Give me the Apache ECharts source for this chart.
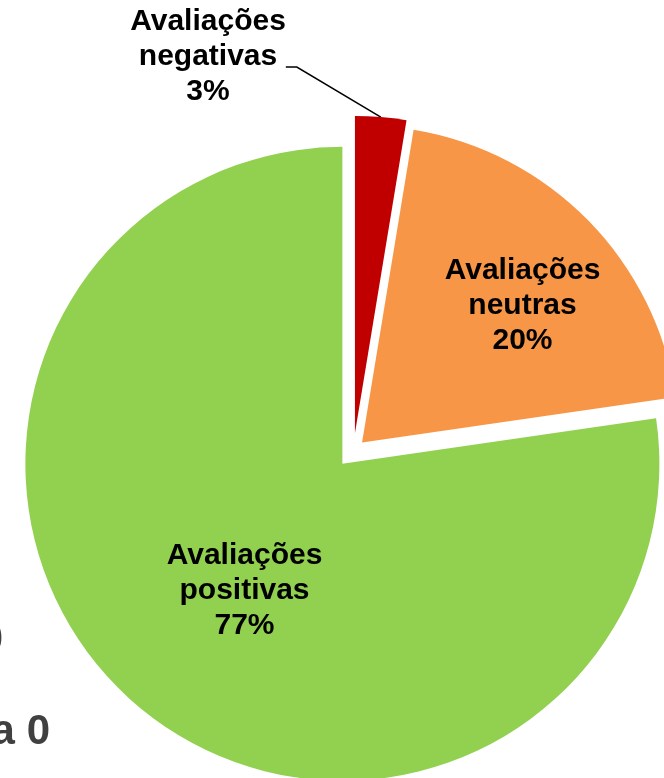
<!DOCTYPE html>
<html>
<head>
<meta charset="utf-8">
<script src="https://cdn.jsdelivr.net/npm/echarts@6/dist/echarts.min.js"></script>
<style>
html,body{margin:0;padding:0;background:#fff;}
#chart{width:664px;height:778px;}
</style>
</head>
<body>
<div id="chart"></div>
<script>
// ---- data ----
const categories = ['Avaliações negativas', 'Avaliações neutras', 'Avaliações positivas'];
const values = [2.6, 20.1, 77.3];

// ---- styles / layout ----
const colors = ['#C00000', '#F79646', '#92D050'];
const explode = [18, 12, 17];
const pieCenter = [353.5, 451];
const pieRadius = 317;
const labelPos = [[208, 57], [522.5, 306], [244.5, 591]];
const labelFont = {
  fontFamily: 'Liberation Sans, Arial, sans-serif',
  fontWeight: 'bold',
  fontSize: 30,
  lineHeight: 35,
  color: '#000'
};

const total = values.reduce((a, b) => a + b, 0);
let cum = 0;
const mids = values.map(v => { const m = (cum + v / 2) / total * 2 * Math.PI; cum += v; return m; });

const chart = echarts.init(document.getElementById('chart'), null, {renderer: 'canvas'});

const series = values.map((_, i) => {
  const cx = pieCenter[0] + explode[i] * Math.sin(mids[i]);
  const cy = pieCenter[1] - explode[i] * Math.cos(mids[i]);
  return {
    type: 'pie',
    silent: true,
    animation: false,
    center: [cx, cy],
    radius: pieRadius,
    startAngle: 90,
    clockwise: true,
    avoidLabelOverlap: false,
    emphasis: {disabled: true},
    itemStyle: {borderWidth: 0},
    label: Object.assign({
      show: true,
      position: i === 0 ? 'outside' : 'inside',
      formatter: p => p.name.replace(' ', '\n') + '\n' + Math.round(p.percent) + '%'
    }, labelFont),
    labelLine: {show: i === 0, length: 20, length2: 12, lineStyle: {color: '#000', width: 1.5}},
    labelLayout: function (params) {
      if (params.dataIndex !== i) return {};
      const x = labelPos[i][0], y = labelPos[i][1];
      const out = {x: x, y: y, align: 'center', verticalAlign: 'middle'};
      if (i === 0) {
        const w = params.labelRect.width;
        const right = x + w / 2;
        const ly = y + 10;
        const start = [cx + pieRadius * Math.sin(mids[i]), cy - pieRadius * Math.cos(mids[i])];
        out.labelLinePoints = [start, [right + 11, ly], [right, ly]];
      }
      return out;
    },
    data: values.map((v, j) => ({
      name: categories[j],
      value: v,
      itemStyle: {color: j === i ? colors[j] : 'rgba(0,0,0,0)', borderWidth: 0},
      label: {show: j === i},
      labelLine: {show: j === i && i === 0}
    }))
  };
});

chart.setOption({
  animation: false,
  series: series,
  graphic: [
    {type: 'text', x: 50, y: 732, silent: true,
     style: {text: 'a 0', textAlign: 'right', textVerticalAlign: 'middle',
             font: 'bold 42px "Liberation Sans", Arial, sans-serif', fill: '#404040'}},
    {type: 'text', x: 3, y: 640, silent: true,
     style: {text: '0', textAlign: 'right', textVerticalAlign: 'middle',
             font: 'bold 42px "Liberation Sans", Arial, sans-serif', fill: '#404040'}}
  ]
});
</script>
</body>
</html>
